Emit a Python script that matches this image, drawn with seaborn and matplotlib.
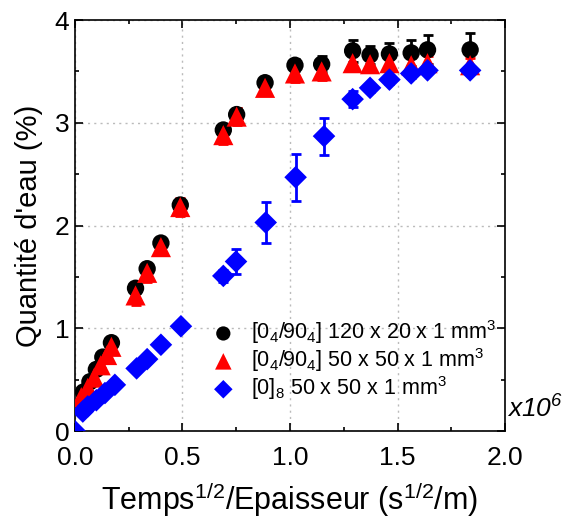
import numpy as np
import pandas as pd
import matplotlib
matplotlib.use("Agg")
import matplotlib.pyplot as plt
from matplotlib.ticker import MultipleLocator
import seaborn as sns

# [0_4/90_4] 120 x 20 x 1 mm3
x_black = [0.04, 0.07, 0.10, 0.13, 0.17, 0.282, 0.336, 0.40, 0.49, 0.69, 0.752,
           0.884, 1.023, 1.147, 1.291, 1.372, 1.462, 1.563, 1.639, 1.837]
y_black = [0.38, 0.48, 0.60, 0.72, 0.86, 1.39, 1.58, 1.83, 2.20, 2.93, 3.08,
           3.39, 3.56, 3.57, 3.70, 3.66, 3.67, 3.68, 3.71, 3.71]
e_black = [0.03, 0.03, 0.03, 0.03, 0.03, 0.05, 0.05, 0.05, 0.06, 0.06, 0.06,
           0.05, 0.06, 0.08, 0.11, 0.09, 0.11, 0.13, 0.14, 0.16]

# [0_4/90_4] 50 x 50 x 1 mm3
x_red = [0.03, 0.06, 0.09, 0.12, 0.15, 0.17, 0.282, 0.336, 0.40, 0.49, 0.69, 0.752,
         0.884, 1.023, 1.147, 1.291, 1.372, 1.462, 1.563, 1.639, 1.837]
y_red = [0.33, 0.42, 0.52, 0.64, 0.74, 0.82, 1.32, 1.54, 1.79, 2.18, 2.88, 3.06,
         3.34, 3.48, 3.50, 3.58, 3.57, 3.58, 3.56, 3.58, 3.56]
e_red = [0.03, 0.03, 0.03, 0.03, 0.03, 0.03, 0.09, 0.09, 0.08, 0.09, 0.09, 0.08,
         0.07, 0.08, 0.08, 0.08, 0.08, 0.07, 0.07, 0.07, 0.07]

# [0]_8 50 x 50 x 1 mm3
x_blue = [0.0, 0.037, 0.06, 0.10, 0.14, 0.186, 0.287, 0.336, 0.40, 0.493, 0.69, 0.749,
          0.887, 1.026, 1.158, 1.291, 1.372, 1.462, 1.563, 1.639, 1.837]
y_blue = [0.0, 0.19, 0.24, 0.30, 0.37, 0.45, 0.61, 0.70, 0.84, 1.02, 1.51, 1.65,
          2.03, 2.47, 2.87, 3.23, 3.34, 3.42, 3.48, 3.51, 3.51]
e_blue = [0.0, 0.02, 0.02, 0.02, 0.02, 0.02, 0.02, 0.02, 0.02, 0.02, 0.06, 0.12,
          0.20, 0.23, 0.18, 0.08, 0.04, 0.04, 0.04, 0.03, 0.03]

labels = [r"[0$_4$/90$_4$] 120 x 20 x 1 mm$^3$",
          r"[0$_4$/90$_4$] 50 x 50 x 1 mm$^3$",
          r"[0]$_8$ 50 x 50 x 1 mm$^3$"]

sns.set_style("ticks")
plt.rcParams['font.family'] = ['Liberation Sans', 'DejaVu Sans']
plt.rcParams['mathtext.fontset'] = 'custom'
plt.rcParams['mathtext.rm'] = 'Liberation Sans'
plt.rcParams['mathtext.it'] = 'Liberation Sans:italic'
plt.rcParams['mathtext.default'] = 'regular'
for k in ['text.color', 'axes.labelcolor', 'xtick.color', 'ytick.color', 'axes.edgecolor']:
    plt.rcParams[k] = 'black'

fig = plt.figure(figsize=(5.67, 5.2), dpi=100)
ax = fig.add_axes([0.132, 0.171, 0.759, 0.7905])

series = [
    (x_black, y_black, e_black, 'black', 'o', 12.5, labels[0]),
    (x_red, y_red, e_red, 'red', '^', 14.5, labels[1]),
    (x_blue, y_blue, e_blue, 'blue', 'D', 11.5, labels[2]),
]
for xs, ys, es, col, mk, ms, lab in series:
    df = pd.DataFrame({'x': xs, 'y': ys})
    ax.errorbar(xs, ys, yerr=es, fmt='none', ecolor=col, elinewidth=2,
                capsize=3.5, capthick=2, zorder=2)
    sns.scatterplot(data=df, x='x', y='y', color=col, marker=mk, s=ms ** 2,
                    edgecolor='none', linewidth=0, label=lab, ax=ax, zorder=3)

ax.set_xlim(0, 2.0)
ax.set_ylim(0, 4)
ax.xaxis.set_major_locator(MultipleLocator(0.5))
ax.xaxis.set_minor_locator(MultipleLocator(0.25))
ax.yaxis.set_major_locator(MultipleLocator(1))
ax.yaxis.set_minor_locator(MultipleLocator(0.5))
ax.set_xticks([0, 0.5, 1.0, 1.5, 2.0])
ax.set_xticklabels(['0.0', '0.5', '1.0', '1.5', '2.0'])
ax.tick_params(which='both', direction='in', top=True, right=True, labelsize=19, width=1.2)
ax.tick_params(which='major', length=6)
ax.tick_params(axis='x', which='major', pad=11)
ax.tick_params(axis='y', which='major', pad=4)
ax.tick_params(which='minor', length=3)
ax.grid(True, which='major', linestyle=(0, (1.5, 3)), color='#bbbbbb', linewidth=1)
ax.set_axisbelow(True)
for sp in ax.spines.values():
    sp.set_linewidth(1.2)
    sp.set_color('black')

ax.set_xlabel(r"Temps$^{1/2}$/Epaisseur (s$^{1/2}$/m)", fontsize=22, labelpad=7)
ax.set_ylabel("Quantité d'eau (%)", fontsize=21, labelpad=8)
ax.text(1.005, 0.02, r"x10$^6$", transform=ax.transAxes, fontsize=19,
        style='italic', ha='left', va='bottom')

ax.legend(loc='lower right', bbox_to_anchor=(1.0, 0.05), frameon=False, fontsize=15.5,
          handletextpad=0.3, labelspacing=0.0, borderaxespad=0.0, markerscale=0.82)

fig.savefig('out.png', dpi=100)
